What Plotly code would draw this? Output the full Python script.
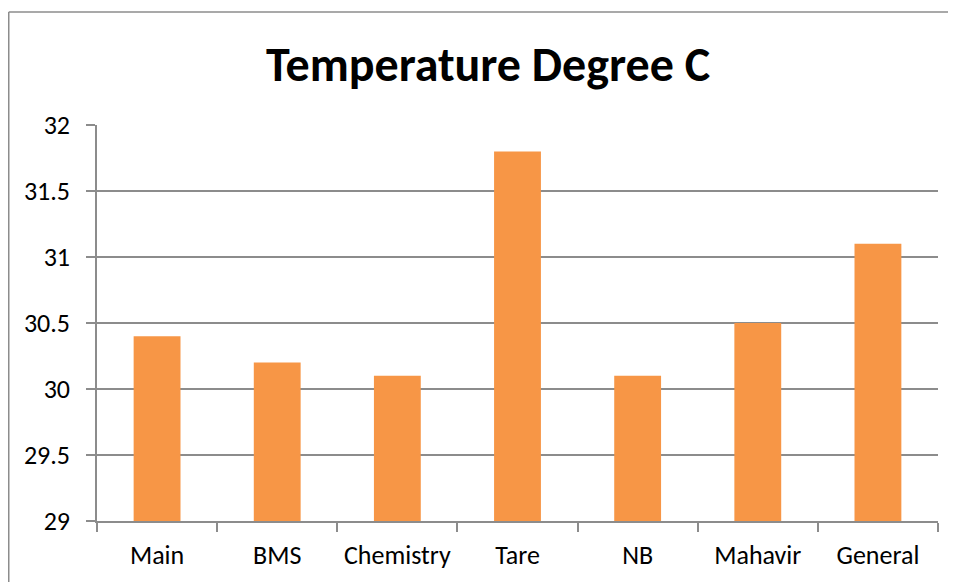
import plotly.graph_objects as go

categories = ["Main", "BMS", "Chemistry", "Tare", "NB", "Mahavir", "General"]
temperatures = [30.4, 30.2, 30.1, 31.8, 30.1, 30.5, 31.1]
y_ticks = [29, 29.5, 30, 30.5, 31, 31.5, 32]
y_tick_labels = ["29", "29.5", "30", "30.5", "31", "31.5", "32"]

# page body has an 8px margin, so the figure is drawn 8px in from the window corner
W, H = 948, 574
L, R, T, B = 89, 18, 117, 61
pw, ph = W - L - R, H - T - B

def px_to_paper_x(px):
    return (px - L) / pw

def px_to_paper_y(py):
    return (H - B - py) / ph

font_family = "Carlito, Calibri, 'Open Sans', 'Liberation Sans', sans-serif"
grey = "#8C8C8C"

fig = go.Figure(
    go.Bar(
        x=categories,
        y=temperatures,
        marker=dict(color="#F79646", line=dict(width=0)),
    )
)

fig.update_layout(
    width=W,
    height=H,
    margin=dict(l=L, r=R, t=T, b=B),
    paper_bgcolor="white",
    plot_bgcolor="white",
    bargap=0.61,
    showlegend=False,
    font=dict(family=font_family, color="black", size=26),
    title=dict(
        text="<b>Temperature Degree C</b>",
        x=px_to_paper_x(480), xref="paper", xanchor="center",
        y=1 - 56 / H, yref="container", yanchor="middle",
        font=dict(size=48, family=font_family, color="black"),
    ),
    shapes=[
        dict(type="line", xref="paper", yref="paper",
             x0=px_to_paper_x(0.75), x1=px_to_paper_x(W + 5),
             y0=px_to_paper_y(4), y1=px_to_paper_y(4),
             line=dict(color=grey, width=1.5)),
        dict(type="line", xref="paper", yref="paper",
             x0=px_to_paper_x(0.75), x1=px_to_paper_x(0.75),
             y0=px_to_paper_y(4), y1=px_to_paper_y(H + 5),
             line=dict(color=grey, width=1.5)),
    ],
)

fig.update_xaxes(
    showline=True, linecolor=grey, linewidth=1.5,
    ticks="outside", ticklen=9, tickcolor=grey, tickwidth=1.5,
    tickson="boundaries", showgrid=False,
    ticklabelstandoff=10,
    tickfont=dict(size=26, family=font_family, color="black"),
)

fig.update_yaxes(
    range=[29, 32],
    tickvals=y_ticks, ticktext=y_tick_labels,
    showline=True, linecolor=grey, linewidth=1.5,
    ticks="outside", ticklen=9, tickcolor=grey, tickwidth=1.5,
    showgrid=True, gridcolor=grey, gridwidth=1.5,
    zeroline=False,
    ticklabelstandoff=11,
    tickfont=dict(size=26, family=font_family, color="black"),
)

fig.write_html("out.html")
